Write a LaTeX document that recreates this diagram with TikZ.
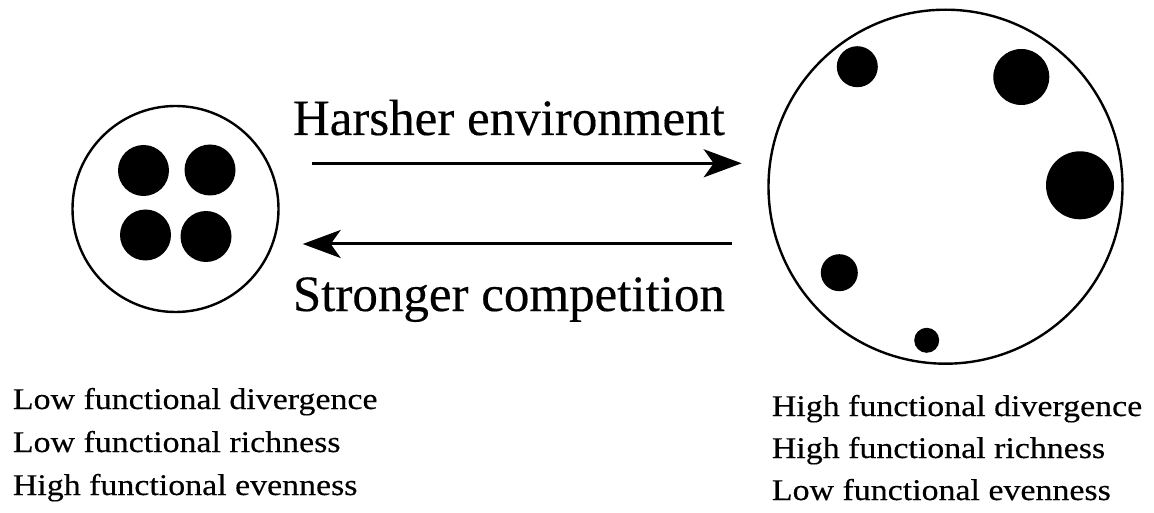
\documentclass[tikz,border=0pt]{standalone}
\usepackage{fontspec}
\setmainfont{Liberation Serif}
\newfontfamily\heavyserif{Liberation Serif}[FakeBold=0.3]
\usetikzlibrary{arrows.meta}
\tikzset{
  ring/.style={circle, draw=black, line width=2.4pt, fill=none, inner sep=0pt},
  dot/.style={circle, fill=black, draw=none, inner sep=0pt},
  flow/.style={line width=3pt, -{Stealth[length=38pt, width=28pt, inset=10pt]}},
  bigtxt/.style={anchor=base west, inner sep=0pt, font=\heavyserif\fontsize{51}{60}\selectfont},
  smalltxt/.style={anchor=base west, inner sep=0pt, font=\heavyserif\fontsize{30}{42}\selectfont},
}
\newcommand{\wid}[1]{\scalebox{1.13}[1]{#1}}
\begin{document}
\begin{tikzpicture}[x=1pt, y=-1pt]
\useasboundingbox (0,0) rectangle (1154,513);
% left community
\node[ring, minimum size=206pt] (L) at (175.5,209) {};
\node[dot, minimum size=51pt] (l1) at (143.5,170.5) {};
\node[dot, minimum size=51pt] (l2) at (210,170) {};
\node[dot, minimum size=51pt] (l3) at (145.5,235) {};
\node[dot, minimum size=51pt] (l4) at (206,236.5) {};
% right community
\node[ring, minimum size=354pt] (R) at (945.5,186.7) {};
\node[dot, minimum size=41pt] (r1) at (857.3,66.7) {};
\node[dot, minimum size=56pt] (r2) at (1021.3,77) {};
\node[dot, minimum size=68pt] (r3) at (1080,185.3) {};
\node[dot, minimum size=37pt] (r4) at (839.3,272.7) {};
\node[dot, minimum size=25pt] (r5) at (926.7,340.3) {};
% arrows
\coordinate (a1s) at (311.7,163.3);
\coordinate (a1e) at (741.7,163.3);
\coordinate (a2s) at (731.7,244);
\coordinate (a2e) at (302.7,244);
\draw[flow] (a1s) -- (a1e);
\draw[flow] (a2s) -- (a2e);
\node[bigtxt] (h) at (292.7,135) {Harsher environment};
\node[bigtxt] (s) at (292.7,311) {Stronger competition};
% left labels
\node[smalltxt] (t1) at (12.7,409) {\wid{Low functional divergence}};
\node[smalltxt] (t2) at (12.7,452) {\wid{Low functional richness}};
\node[smalltxt] (t3) at (12.7,495) {\wid{High functional evenness}};
% right labels
\node[smalltxt] (u1) at (771.7,416) {\wid{High functional divergence}};
\node[smalltxt] (u2) at (771.7,458) {\wid{High functional richness}};
\node[smalltxt] (u3) at (771.7,500) {\wid{Low functional evenness}};
\end{tikzpicture}
\end{document}
